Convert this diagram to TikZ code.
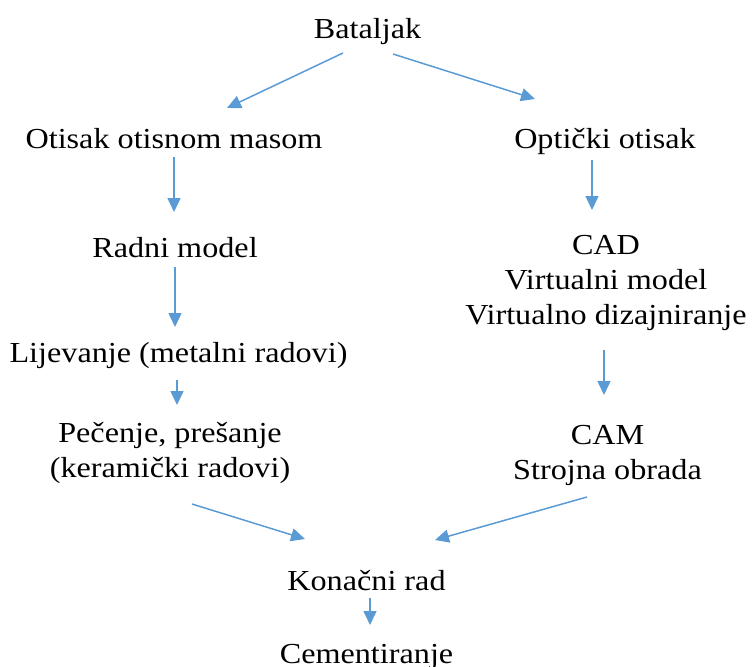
\documentclass[tikz,border=0pt]{standalone}
\usepackage{fontspec}
\setmainfont{Liberation Serif}[FakeStretch=1.11]
\usetikzlibrary{calc,arrows.meta}
\definecolor{arrblue}{RGB}{91,155,213}

\begin{document}
\begin{tikzpicture}[x=1pt, y=-1pt,
		every node/.style={anchor=base, inner sep=0pt, font=\fontsize{29}{35}\selectfont, align=center},
		arr/.style={-{Triangle[width=13pt,length=14pt]}, line width=1.5pt, arrblue}]
			\useasboundingbox (0,0) rectangle (753,667);
	
			% top
			\node (bat) at (367.5,38) {Bataljak};
			\node (oti) at (174,148) {Otisak otisnom masom};
			\node (opt) at (605,148) {Optički otisak};
			\draw [arr] ($(bat.base)+(-24.5,15)$) -- ($(oti.base)+(53,-40)$);
			\draw [arr] ($(bat.base)+(25.5,16)$) -- ($(opt.base)+(-70,-49)$);
	
			% left branch (base = last line)
			\node (radni) at (175,257) {Radni model};
			\node (lij) at (178.5,362) {Lijevanje (metalni radovi)};
			\node (pec) at (170,477) {Pečenje, prešanje\\(keramički radovi)};
			\draw [arr] ($(oti.base)+(0,9)$) -- ($(radni.base)+(-1,-45)$);
			\draw [arr] ($(radni.base)+(0,10)$) -- ($(lij.base)+(-3.5,-35)$);
			\draw [arr] ($(lij.base)+(-1.5,18)$) -- ($(pec.base)+(7,-72)$);
	
			% right branch
			\node (cad) at (606,324) {CAD\\Virtualni model\\Virtualno dizajniranje};
			\node (cam) at (607.5,479) {CAM\\Strojna obrada};
			\draw [arr] ($(opt.base)+(-13,12)$) -- ($(cad.base)+(-14,-114)$);
			\draw [arr] ($(cad.base)+(-2,26)$) -- ($(cam.base)+(-3.5,-84)$);
	
			% end
			\node (kon) at (366.5,590) {Konačni rad};
			\node (cem) at (366.5,663) {Cementiranje};
			\draw [arr] ($(pec.base)+(22,27)$) -- ($(kon.base)+(-61.5,-51)$);
			\draw [arr] ($(cam.base)+(-20.5,18)$) -- ($(kon.base)+(68.5,-50)$);
			\draw [arr] ($(kon.base)+(3.5,8)$) -- ($(cem.base)+(3.5,-38)$);
			\end{tikzpicture}
\end{document}
